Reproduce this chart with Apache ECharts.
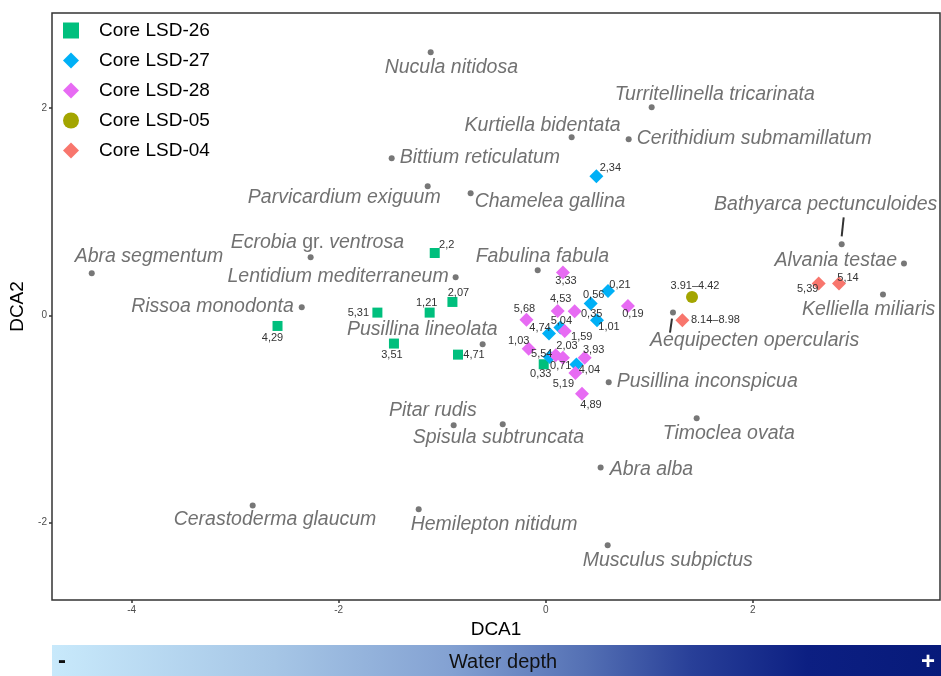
<!DOCTYPE html>
<html><head><meta charset="utf-8">
<script src="https://cdn.jsdelivr.net/npm/echarts@6/dist/echarts.min.js"></script>
<style>html,body{margin:0;padding:0;background:#fff}#c{width:941px;height:676px}</style>
</head><body><div id="c"></div>
<script>
// ---------- DATA ----------
const xTicks = [-4, -2, 0, 2];
const yTicks = [-2, 0, 2];

const speciesNames = ['Nucula nitidosa','Turritellinella tricarinata','Kurtiella bidentata','Cerithidium submamillatum','Bittium reticulatum','Parvicardium exiguum','Chamelea gallina','Bathyarca pectunculoides','Abra segmentum','Ecrobia gr. ventrosa','Lentidium mediterraneum','Fabulina fabula','Alvania testae','Kelliella miliaris','Rissoa monodonta','Pusillina lineolata','Aequipecten opercularis','Pusillina inconspicua','Pitar rudis','Spisula subtruncata','Timoclea ovata','Abra alba','Cerastoderma glaucum','Hemilepton nitidum','Musculus subpictus'];
const speciesDCA1 = [-1.111, 1.024, 0.251, 0.802, -1.488, -1.140, -0.725, 2.860, -4.386, -2.271, -0.870, -0.077, 3.462, 3.259, -2.357, -0.609, 1.230, 0.609, -0.889, -0.415, 1.459, 0.531, -2.831, -1.227, 0.599];
const speciesDCA2 = [2.541, 2.010, 1.720, 1.700, 1.517, 1.246, 1.179, 0.686, 0.406, 0.560, 0.367, 0.435, 0.500, 0.200, 0.077, -0.280, 0.026, -0.647, -1.063, -1.053, -0.995, -1.469, -1.836, -1.874, -2.222];

const coreNames = ['Core LSD-26','Core LSD-27','Core LSD-28','Core LSD-05','Core LSD-04'];

const lsd26Depth = ['2,2','2,07','1,21','5,31','3,51','4,71','4,29','0,33'];
const lsd26DCA1 = [-1.072, -0.901, -1.121, -1.626, -1.466, -0.847, -2.591, -0.019];
const lsd26DCA2 = [0.602, 0.129, 0.026, 0.026, -0.273, -0.380, -0.103, -0.473];

const lsd27Depth = ['2,34','0,21','0,56','1,01','5,04','4,74','5,54','4,04'];
const lsd27DCA1 = [0.490, 0.602, 0.435, 0.496, 0.142, 0.032, 0.039, 0.297];
const lsd27DCA2 = [1.343, 0.235, 0.113, -0.048, -0.119, -0.177, -0.403, -0.476];

const lsd28Depth = ['3,33','4,53','5,68','0,35','0,19','1,59','1,03','0,71','2,03','3,93','5,19','4,89'];
const lsd28DCA1 = [0.167, 0.116, -0.186, 0.280, 0.795, 0.184, -0.164, 0.097, 0.167, 0.377, 0.287, 0.351];
const lsd28DCA2 = [0.413, 0.042, -0.042, 0.039, 0.090, -0.152, -0.322, -0.386, -0.409, -0.409, -0.557, -0.757];

const lsd05Depth = ['3.91\u20134.42'];
const lsd05DCA1 = [1.414];
const lsd05DCA2 = [0.177];

const lsd04Depth = ['8.14\u20138.98','5,39','5,14'];
const lsd04DCA1 = [1.321, 2.638, 2.834];
const lsd04DCA2 = [-0.048, 0.306, 0.306];

// ---------- LAYOUT (label placement, px) ----------
const speciesLabelLayout = [
  [-46,15,'left'],[-37,-13,'left'],[49,-12,'right'],[8,-1,'left'],[8,-1,'left'],
  [13,11,'right'],[4,8,'left'],[-16,-40,'center'],[-17,-17,'left'],[-80,-15,'left'],
  [-7,-1,'right'],[-62,-14,'left'],[-7,-3,'right'],[-81,15,'left'],[-8,-1,'right'],
  [15,-15,'right'],[-23,28,'left'],[8,-1,'left'],[23,-15,'right'],[-90,13,'left'],
  [-34,15,'left'],[9,2,'left'],[-79,14,'left'],[-8,15,'left'],[-25,15,'left']
];
const connectors = {7:[2,-27,0,-8], 16:[-1,6,-3,20]};

const lsd26LabelOff = [[12,-8],[6,-9],[-3,-10],[-19,0],[-2,11],[16,0],[-5,12],[-3,10]];
const lsd27LabelOff = [[14,-8],[12,-6],[3,-9],[12,7],[1,-7],[-9,-6],[-8,-3],[13,5]];
const lsd28LabelOff = [[3,8],[3,-12],[-2,-11],[17,3],[5,8],[17,6],[-10,-8],[5,11],[4,-12],[9,-8],[-12,11],[9,11]];
const lsd05LabelOff = [[3,-11]];
const lsd04LabelOff = [[33,0],[-11,5],[9,-6]];

const colors = ['#00BF7D','#00B0F6','#E76BF3','#A3A500','#F8766D'];
const FONT = "'Liberation Sans', Arial, sans-serif";

function sampleData(xs, ys, labels, offs) {
  return xs.map((x, i) => ({
    value: [x, ys[i]],
    name: labels[i],
    label: { offset: offs[i] }
  }));
}
function sampleSeries(name, symbol, size, color, xs, ys, labels, offs) {
  return {
    type: 'scatter', name: name, symbol: symbol, symbolSize: size,
    itemStyle: { color: color, opacity: 1 },
    data: sampleData(xs, ys, labels, offs),
    label: { show: true, position: 'inside', formatter: p => p.name, color: '#333', fontSize: 11, fontFamily: FONT },
    z: 5, silent: true, clip: false
  };
}

const speciesData = speciesNames.map((n, i) => {
  const L = speciesLabelLayout[i];
  return { value: [speciesDCA1[i], speciesDCA2[i]], name: n, label: { offset: [L[0], L[1]], align: L[2] } };
});
const connectorData = Object.keys(connectors).map(k => [speciesDCA1[k], speciesDCA2[k], +k]);

const chart = echarts.init(document.getElementById('c'), null, { renderer: 'canvas' });
chart.setOption({
  animation: false,
  backgroundColor: '#fff',
  textStyle: { fontFamily: FONT },
  grid: { left: 52, right: 1, top: 13, bottom: 76, show: true, borderColor: '#333', borderWidth: 1.5, backgroundColor: '#fff' },
  legend: {
    data: coreNames, orient: 'vertical', left: 63, top: 21, itemWidth: 16, itemHeight: 16, itemGap: 11,
    textStyle: { fontSize: 19, color: '#000', fontFamily: FONT, padding: [0, 0, 0, 15] },
    selectedMode: false, padding: 0
  },
  xAxis: {
    type: 'value', min: -4.77, max: 3.81,
    name: 'DCA1', nameLocation: 'middle', nameGap: 19,
    nameTextStyle: { fontSize: 19, color: '#000', fontFamily: FONT },
    splitLine: { show: false }, axisLine: { show: false, onZero: false },
    axisTick: { show: true, customValues: xTicks, length: 3, lineStyle: { color: '#333', width: 1.5 } },
    axisLabel: { customValues: xTicks, fontSize: 10, color: '#4d4d4d', margin: 5 }
  },
  yAxis: {
    type: 'value', min: -2.75, max: 2.92,
    name: 'DCA2', nameLocation: 'middle', nameGap: 15,
    nameTextStyle: { fontSize: 19, color: '#000', fontFamily: FONT },
    splitLine: { show: false }, axisLine: { show: false, onZero: false },
    axisTick: { show: true, customValues: yTicks, length: 3, lineStyle: { color: '#333', width: 1.5 } },
    axisLabel: { customValues: yTicks, fontSize: 10, color: '#4d4d4d', margin: 5 }
  },
  series: [
    {
      type: 'custom', name: 'connectors', coordinateSystem: 'cartesian2d',
      data: connectorData, encode: { x: 0, y: 1 }, silent: true, z: 3,
      renderItem: (params, api) => {
        const p = api.coord([api.value(0), api.value(1)]);
        const s = connectors[api.value(2)];
        return { type: 'line', shape: { x1: p[0] + s[0], y1: p[1] + s[1], x2: p[0] + s[2], y2: p[1] + s[3] }, style: { stroke: '#333', lineWidth: 2 } };
      }
    },
    {
      type: 'scatter', name: 'species', symbol: 'circle', symbolSize: 6,
      itemStyle: { color: '#555' }, data: speciesData, z: 4, silent: true, clip: false,
      label: {
        show: true, position: 'inside', verticalAlign: 'middle',
        formatter: p => p.name.indexOf(' gr. ') >= 0
          ? p.name.split(' gr. ').map(s => '{i|' + s + '}').join('{n| gr. }')
          : '{i|' + p.name + '}',
        rich: {
          i: { fontSize: 19.5, fontStyle: 'italic', color: '#4d4d4d', fontFamily: FONT },
          n: { fontSize: 19.5, color: '#4d4d4d', fontFamily: FONT }
        }
      }
    },
    sampleSeries(coreNames[0], 'rect', 10, colors[0], lsd26DCA1, lsd26DCA2, lsd26Depth, lsd26LabelOff),
    sampleSeries(coreNames[1], 'diamond', 14, colors[1], lsd27DCA1, lsd27DCA2, lsd27Depth, lsd27LabelOff),
    sampleSeries(coreNames[2], 'diamond', 14, colors[2], lsd28DCA1, lsd28DCA2, lsd28Depth, lsd28LabelOff),
    sampleSeries(coreNames[3], 'circle', 12, colors[3], lsd05DCA1, lsd05DCA2, lsd05Depth, lsd05LabelOff),
    sampleSeries(coreNames[4], 'diamond', 14, colors[4], lsd04DCA1, lsd04DCA2, lsd04Depth, lsd04LabelOff)
  ],
  graphic: [
    {
      type: 'rect', left: 52, top: 645, shape: { width: 889, height: 31 }, silent: true,
      style: { fill: { type: 'linear', x: 0, y: 0, x2: 1, y2: 0, colorStops: [
        { offset: 0, color: '#c8e9fb' }, { offset: 0.25, color: '#a6c6e6' }, { offset: 0.45, color: '#83a1d2' },
        { offset: 0.6, color: '#5470b4' }, { offset: 0.72, color: '#283f98' }, { offset: 0.85, color: '#0c1f82' },
        { offset: 1, color: '#071a7a' } ] } }
    },
    { type: 'text', x: 503, y: 662, silent: true, style: { text: 'Water depth', fontSize: 20, fill: '#111', fontFamily: FONT, align: 'center', verticalAlign: 'middle' } },
    { type: 'text', x: 62, y: 661, silent: true, style: { text: '-', fontSize: 24, fontWeight: 'bold', fill: '#111', fontFamily: FONT, align: 'center', verticalAlign: 'middle' } },
    { type: 'text', x: 928, y: 662, silent: true, style: { text: '+', fontSize: 24, fontWeight: 'bold', fill: '#fff', fontFamily: FONT, align: 'center', verticalAlign: 'middle' } }
  ]
});
</script>
</body></html>
